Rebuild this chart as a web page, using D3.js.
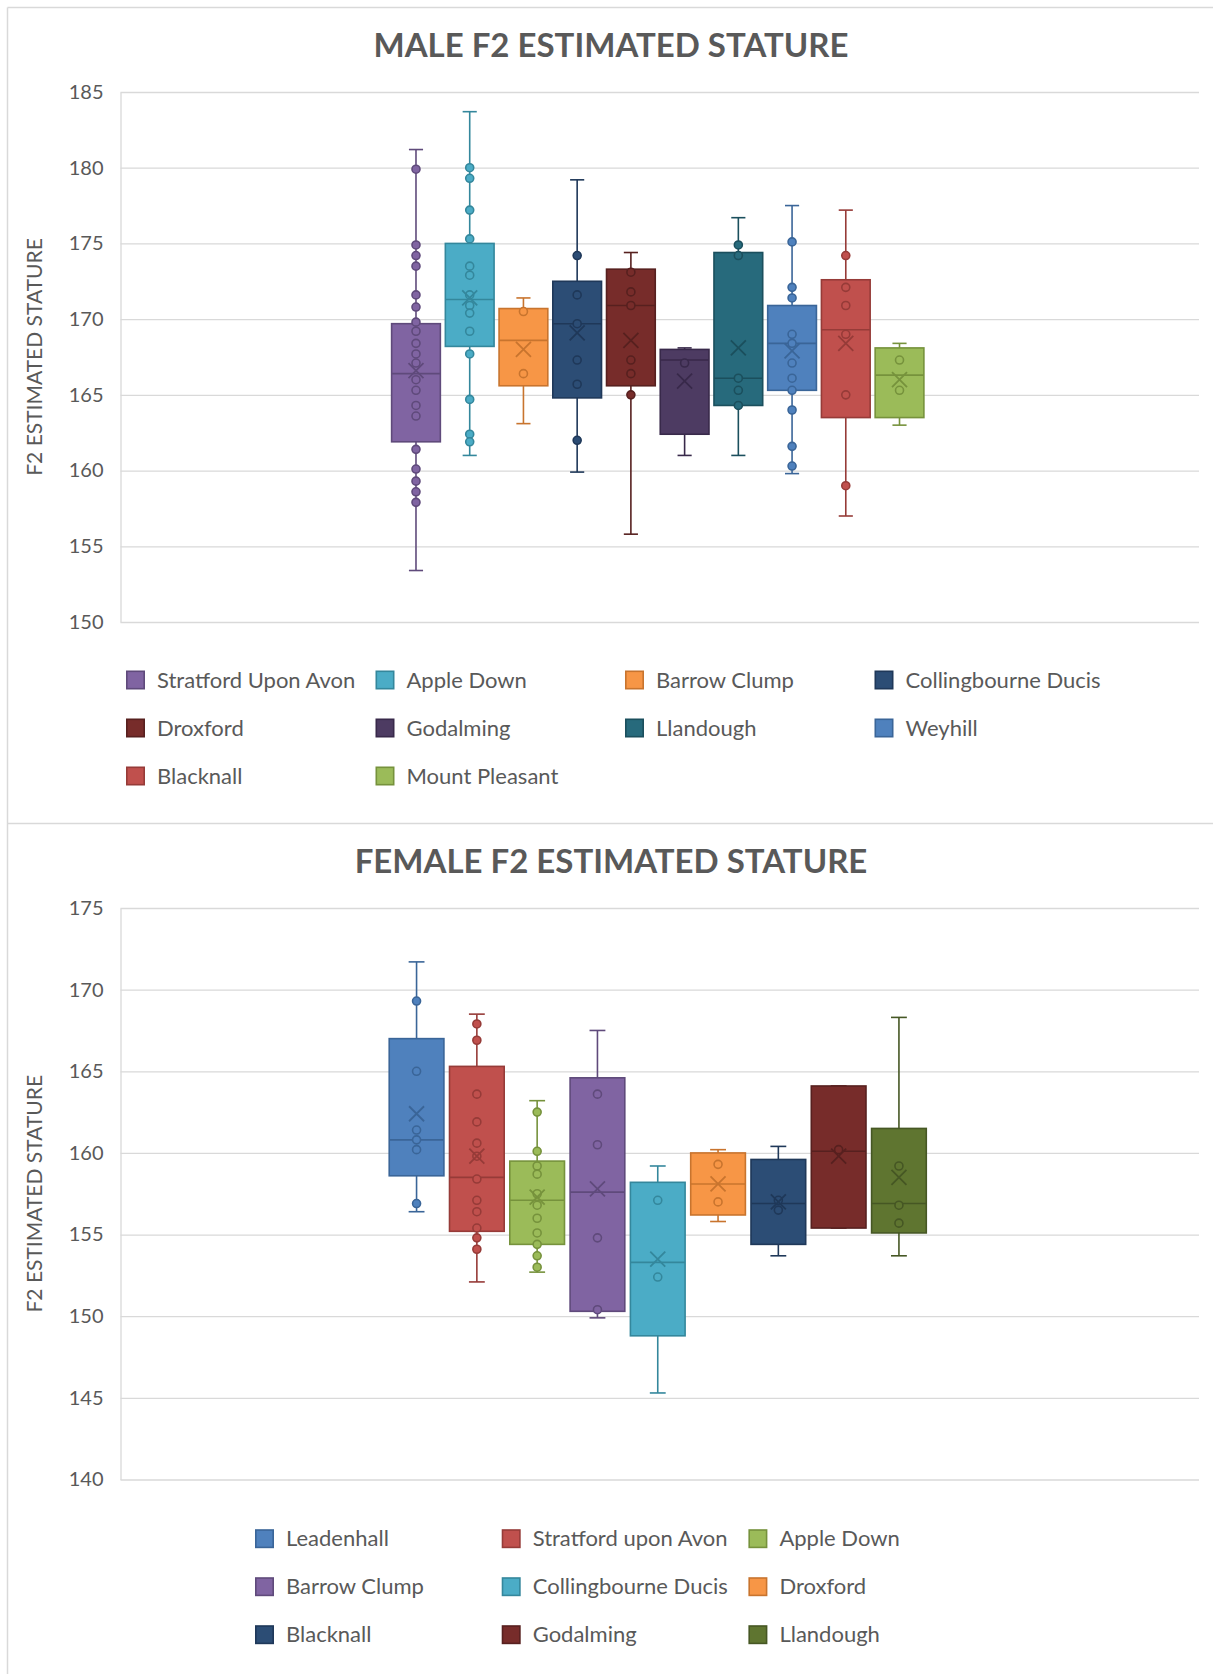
<!DOCTYPE html>
<html>
<head>
<meta charset="utf-8">
<script src="https://cdn.jsdelivr.net/npm/d3@7"></script>
<style>
  html, body { margin: 0; padding: 0; background: #fff; }
  svg { display: block; font-family: Lato, "Open Sans", sans-serif; }
</style>
</head>
<body>
<svg id="chart" width="1213" height="1674"></svg>
<script>
// ---------- Male F2 estimated stature (cm) ----------
const maleSites = ["Stratford Upon Avon", "Apple Down", "Barrow Clump", "Collingbourne Ducis", "Droxford",
                   "Godalming", "Llandough", "Weyhill", "Blacknall", "Mount Pleasant"];
const maleLow    = [153.4, 161.0, 163.1, 159.9, 155.8, 161.0, 161.0, 159.8, 157.0, 163.0];
const maleQ1     = [161.9, 168.2, 165.6, 164.8, 165.6, 162.4, 164.3, 165.3, 163.5, 163.5];
const maleMedian = [166.4, 171.3, 168.6, 169.7, 170.9, 167.3, 166.1, 168.4, 169.3, 166.3];
const maleQ3     = [169.7, 175.0, 170.7, 172.5, 173.3, 168.0, 174.4, 170.9, 172.6, 168.1];
const maleHigh   = [181.2, 183.7, 171.4, 179.2, 174.4, 168.1, 176.7, 177.5, 177.2, 168.4];
const maleMean   = [166.6, 171.4, 168.0, 169.1, 168.6, 165.9, 168.1, 167.9, 168.4, 166.0];
const malePoints = [
  [179.9, 174.9, 174.2, 173.5, 171.6, 170.8, 169.8, 169.2, 168.4, 167.7, 167.1, 166.0, 165.3, 164.3, 163.6, 161.4, 160.1, 159.3, 158.6, 157.9],
  [180.0, 179.3, 177.2, 175.3, 173.5, 172.9, 171.6, 170.9, 170.4, 169.2, 167.7, 164.7, 162.4, 161.9],
  [170.5, 166.4],
  [174.2, 171.6, 169.7, 167.3, 165.7, 162.0],
  [173.1, 171.8, 170.9, 167.3, 166.4, 165.0],
  [167.1],
  [174.9, 174.2, 166.1, 165.3, 164.3],
  [175.1, 172.1, 171.4, 169.0, 168.4, 167.1, 166.1, 165.3, 164.0, 161.6, 160.3],
  [174.2, 172.1, 170.9, 169.0, 165.0, 159.0],
  [167.3, 165.3]
];
const maleTicks = [150, 155, 160, 165, 170, 175, 180, 185];

// ---------- Female F2 estimated stature (cm) ----------
const femaleSites = ["Leadenhall", "Stratford upon Avon", "Apple Down", "Barrow Clump", "Collingbourne Ducis",
                     "Droxford", "Blacknall", "Godalming", "Llandough"];
const femaleLow    = [156.4, 152.1, 152.7, 149.9, 145.3, 155.8, 153.7, 155.4, 153.7];
const femaleQ1     = [158.6, 155.2, 154.4, 150.3, 148.8, 156.2, 154.4, 155.4, 155.1];
const femaleMedian = [160.8, 158.5, 157.1, 157.6, 153.3, 158.1, 156.9, 160.1, 156.9];
const femaleQ3     = [167.0, 165.3, 159.5, 164.6, 158.2, 160.0, 159.6, 164.1, 161.5];
const femaleHigh   = [171.7, 168.5, 163.2, 167.5, 159.2, 160.2, 160.4, 164.1, 168.3];
const femaleMean   = [162.4, 159.8, 157.3, 157.8, 153.5, 158.1, 157.0, 159.8, 158.5];
const femalePoints = [
  [169.3, 165.0, 161.4, 160.8, 160.2, 156.9],
  [167.9, 166.9, 163.6, 161.9, 160.6, 159.8, 158.4, 157.1, 156.4, 155.4, 154.8, 154.1],
  [162.5, 160.1, 159.2, 158.7, 157.5, 156.8, 156.0, 155.1, 154.4, 153.7, 153.0],
  [163.6, 160.5, 154.8, 150.4],
  [157.1, 152.4],
  [159.3, 157.0],
  [157.1, 156.5],
  [160.2],
  [159.2, 156.8, 155.7]
];
const femaleTicks = [140, 145, 150, 155, 160, 165, 170, 175];

// ---------- Series colours (fill / outline) ----------
const maleFill   = ["#8064A2", "#4BACC6", "#F79646", "#2C4D75", "#772C2A", "#4D3B62", "#276A7C", "#4F81BD", "#C0504D", "#9BBB59"];
const maleLine   = ["#5F4A7B", "#34879C", "#C8742E", "#1F3859", "#57201F", "#38294A", "#1B4F5D", "#3A6598", "#963B38", "#76923C"];
const femaleFill = ["#4F81BD", "#C0504D", "#9BBB59", "#8064A2", "#4BACC6", "#F79646", "#2C4D75", "#772C2A", "#5F7530"];
const femaleLine = ["#3A6598", "#963B38", "#76923C", "#5F4A7B", "#34879C", "#C8742E", "#1F3859", "#57201F", "#465724"];

const TEXT = "#595959";
const GRID = "#D9D9D9";

const svg = d3.select("#chart");

// Chart-area frames (two stacked panels)
const frame = svg.append("g").attr("fill", "none").attr("stroke", GRID).attr("stroke-width", 1.5);
frame.append("line").attr("x1", 7.5).attr("x2", 1213).attr("y1", 7.5).attr("y2", 7.5);
frame.append("line").attr("x1", 7.5).attr("x2", 7.5).attr("y1", 7.5).attr("y2", 1674);
frame.append("line").attr("x1", 7.5).attr("x2", 1213).attr("y1", 823.5).attr("y2", 823.5);

function drawPanel(cfg) {
  const g = svg.append("g");
  const left = 120.5, right = 1199;

  const y = d3.scaleLinear().domain([cfg.ticks[0], cfg.ticks[cfg.ticks.length - 1]]).range(cfg.yRange);

  // One category; the group of boxes takes about half of the plot width
  const cat = d3.scaleBand().domain(["all"]).range([left, right - 4]).paddingInner(0).paddingOuter(cfg.outerPad);
  const series = d3.scaleBand().domain(cfg.sites).range([cat("all"), cat("all") + cat.bandwidth()]).padding(0);
  const boxW = series.bandwidth() * 0.907;
  const capW = boxW * 0.29;

  // Title
  g.append("text")
    .attr("x", 611).attr("y", cfg.titleY)
    .attr("text-anchor", "middle")
    .attr("font-weight", 700).attr("font-size", 33).attr("fill", TEXT)
    .text(cfg.title);

  // Y axis with gridlines
  const axis = g.append("g")
    .attr("transform", `translate(${left},0)`)
    .call(d3.axisLeft(y).tickValues(cfg.ticks).tickSize(-(right - left)).tickSizeOuter(0).tickPadding(17));
  axis.select(".domain").attr("stroke", GRID).attr("stroke-width", 1.3);
  axis.selectAll(".tick line").attr("stroke", GRID).attr("stroke-width", 1.3);
  axis.selectAll(".tick text").attr("fill", TEXT).attr("font-size", 20)
    .attr("font-family", "Lato, 'Open Sans', sans-serif");

  // Axis title
  g.append("text")
    .attr("transform", `translate(35,${(cfg.yRange[0] + cfg.yRange[1]) / 2}) rotate(-90)`)
    .attr("text-anchor", "middle").attr("dy", "0.35em")
    .attr("font-size", 21).attr("fill", TEXT)
    .text("F2 ESTIMATED STATURE");

  // Boxes
  cfg.sites.forEach((site, i) => {
    const cx = series(site) + series.bandwidth() / 2;
    const fill = cfg.fill[i], line = cfg.line[i];
    const s = g.append("g");

    // whiskers
    s.append("line").attr("x1", cx).attr("x2", cx)
      .attr("y1", y(cfg.high[i])).attr("y2", y(cfg.low[i]))
      .attr("stroke", line).attr("stroke-width", 1.6);
    [cfg.high[i], cfg.low[i]].forEach(v => {
      s.append("line").attr("x1", cx - capW / 2).attr("x2", cx + capW / 2)
        .attr("y1", y(v)).attr("y2", y(v))
        .attr("stroke", line).attr("stroke-width", 1.6);
    });

    // box
    s.append("rect")
      .attr("x", cx - boxW / 2).attr("width", boxW)
      .attr("y", y(cfg.q3[i])).attr("height", y(cfg.q1[i]) - y(cfg.q3[i]))
      .attr("fill", fill).attr("stroke", line).attr("stroke-width", 1.6);

    // median
    s.append("line").attr("x1", cx - boxW / 2).attr("x2", cx + boxW / 2)
      .attr("y1", y(cfg.median[i])).attr("y2", y(cfg.median[i]))
      .attr("stroke", line).attr("stroke-width", 1.6);

    // data points
    s.selectAll("circle").data(cfg.points[i]).join("circle")
      .attr("cx", cx).attr("cy", d => y(d)).attr("r", 4)
      .attr("fill", fill).attr("stroke", line).attr("stroke-width", 1.6);

    // mean marker
    const my = y(cfg.mean[i]), h = 7.5;
    s.append("path")
      .attr("d", `M${cx - h},${my - h}L${cx + h},${my + h}M${cx - h},${my + h}L${cx + h},${my - h}`)
      .attr("stroke", line).attr("stroke-width", 1.8).attr("fill", "none");
  });

  // Legend
  const lg = g.append("g");
  cfg.sites.forEach((site, i) => {
    const col = i % cfg.legendCols, row = Math.floor(i / cfg.legendCols);
    const lx = cfg.legendX + col * cfg.legendStep;
    const ly = cfg.legendY + row * 48;
    lg.append("rect").attr("x", lx + 0.8).attr("y", ly - 8.7).attr("width", 17.4).attr("height", 17.4)
      .attr("fill", cfg.fill[i]).attr("stroke", cfg.line[i]).attr("stroke-width", 1.6);
    lg.append("text").attr("x", lx + 31).attr("y", ly).attr("dy", "0.35em")
      .attr("font-size", 22).attr("fill", TEXT).text(site);
  });
}

drawPanel({
  title: "MALE F2 ESTIMATED STATURE", titleY: 57,
  sites: maleSites, low: maleLow, q1: maleQ1, median: maleMedian, q3: maleQ3, high: maleHigh,
  mean: maleMean, points: malePoints, ticks: maleTicks, yRange: [622, 92],
  fill: maleFill, line: maleLine, outerPad: 0.5,
  legendX: 126, legendY: 680, legendStep: 249.5, legendCols: 4
});

drawPanel({
  title: "FEMALE F2 ESTIMATED STATURE", titleY: 873,
  sites: femaleSites, low: femaleLow, q1: femaleQ1, median: femaleMedian, q3: femaleQ3, high: femaleHigh,
  mean: femaleMean, points: femalePoints, ticks: femaleTicks, yRange: [1479.5, 908],
  fill: femaleFill, line: femaleLine, outerPad: 0.49,
  legendX: 255, legendY: 1538.7, legendStep: 246.7, legendCols: 3
});
</script>
</body>
</html>
